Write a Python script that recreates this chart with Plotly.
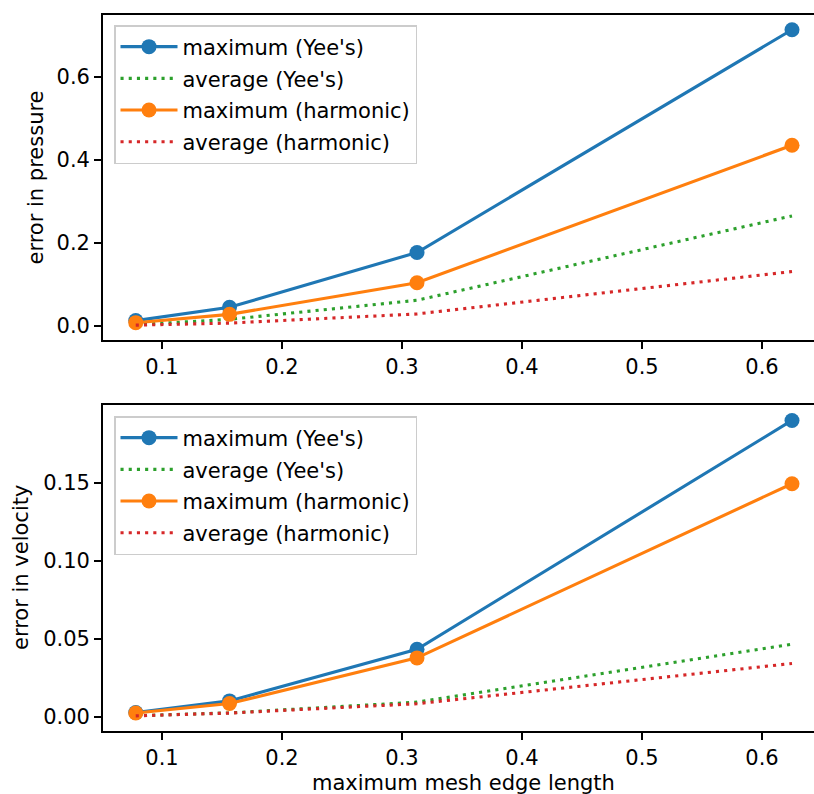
import plotly.graph_objects as go

# mesh edge lengths
h = [0.078125, 0.15625, 0.3125, 0.625]

# pressure errors
p_max_yee = [0.013, 0.045, 0.177, 0.713]
p_avg_yee = [0.003, 0.016, 0.062, 0.265]
p_max_har = [0.008, 0.028, 0.104, 0.435]
p_avg_har = [0.002, 0.007, 0.029, 0.131]

# velocity errors
v_max_yee = [0.0028, 0.0103, 0.0434, 0.1902]
v_avg_yee = [0.0008, 0.0026, 0.0095, 0.0467]
v_max_har = [0.0025, 0.0086, 0.0379, 0.1496]
v_avg_har = [0.0007, 0.0025, 0.0085, 0.0343]

labels = ["maximum (Yee's)", "average (Yee's)", "maximum (harmonic)", "average (harmonic)"]
colors = ["#1f77b4", "#2ca02c", "#ff7f0e", "#d62728"]

FONT = "DejaVu Sans"
FS = 21
LW = 3.1
MS = 15
DOT = "3.1px,5.1px"

fig = go.Figure()

def add_set(series, xa, ya, leg):
    for i, (y, lab, col) in enumerate(zip(series, labels, colors)):
        is_max = (i % 2 == 0)
        fig.add_trace(go.Scatter(
            x=h, y=y, name=lab, xaxis=xa, yaxis=ya, legend=leg,
            mode="lines+markers" if is_max else "lines",
            line=dict(color=col, width=LW, dash=None if is_max else DOT),
            marker=dict(size=MS, color=col) if is_max else None,
            legendgroup=leg + str(i),
        ))

add_set([p_max_yee, p_avg_yee, p_max_har, p_avg_har], "x", "y", "legend")
add_set([v_max_yee, v_avg_yee, v_max_har, v_avg_har], "x2", "y2", "legend2")

W, H = 814, 794
L, R, T, B = 103, 0, 15, 63
ph = H - T - B  # 716
top_dom = [(731 - 340) / ph, 1.0]
bot_dom = [0.0, (731 - 405) / ph]

xrange = [0.1 - 59 / 1200, 0.6 + 52 / 1200]

axcommon = dict(
    showgrid=False, zeroline=False, showline=True, linecolor="black", linewidth=1.7,
    ticks="outside", ticklen=7, tickwidth=1.7, tickcolor="black",
    tickfont=dict(family=FONT, size=FS, color="black"),
)

legcommon = dict(
    xanchor="left", yanchor="top",
    bgcolor="rgba(255,255,255,0.8)", bordercolor="#cccccc", borderwidth=1.5,
    font=dict(family=FONT, size=FS, color="black"), tracegroupgap=1.4,
    traceorder="grouped", itemwidth=57,
)

fig.update_layout(
    width=W, height=H,
    margin=dict(l=L, r=R, t=T, b=B),
    paper_bgcolor="white", plot_bgcolor="white",
    font=dict(family=FONT, size=FS, color="black"),
    xaxis=dict(domain=[0, 1], range=xrange, anchor="y", mirror=True,
               tickvals=[0.1, 0.2, 0.3, 0.4, 0.5, 0.6], tickformat=".1f", **axcommon),
    yaxis=dict(domain=top_dom, range=[-0.0337, 0.7485], anchor="x",
               tickvals=[0.0, 0.2, 0.4, 0.6], tickformat=".1f", **axcommon),
    xaxis2=dict(domain=[0, 1], range=xrange, anchor="y2", mirror=True,
                tickvals=[0.1, 0.2, 0.3, 0.4, 0.5, 0.6], tickformat=".1f", **axcommon),
    yaxis2=dict(domain=bot_dom, range=[-0.009, 0.2001], anchor="x2",
                tickvals=[0.0, 0.05, 0.10, 0.15], tickformat=".2f", **axcommon),
    legend=dict(x=(114 - L) / 711, y=(731 - 25) / ph, **legcommon),
    legend2=dict(x=(114 - L) / 711, y=(731 - 416) / ph, **legcommon),
    showlegend=True,
)

def px_to_paper_x(px):
    return (px - L) / 711

def px_to_paper_y(py):
    return (731 - py) / ph

fig.add_annotation(text="error in pressure", textangle=-90, x=px_to_paper_x(35), y=px_to_paper_y(177.5),
                   xref="paper", yref="paper", showarrow=False, xanchor="center", yanchor="middle",
                   font=dict(family=FONT, size=FS, color="black"))
fig.add_annotation(text="error in velocity", textangle=-90, x=px_to_paper_x(21), y=px_to_paper_y(568),
                   xref="paper", yref="paper", showarrow=False, xanchor="center", yanchor="middle",
                   font=dict(family=FONT, size=FS, color="black"))
fig.add_annotation(text="maximum mesh edge length", x=px_to_paper_x(463), y=px_to_paper_y(769),
                   xref="paper", yref="paper", showarrow=False, xanchor="center", yanchor="top",
                   font=dict(family=FONT, size=FS, color="black"))

fig.write_html("out.html")
